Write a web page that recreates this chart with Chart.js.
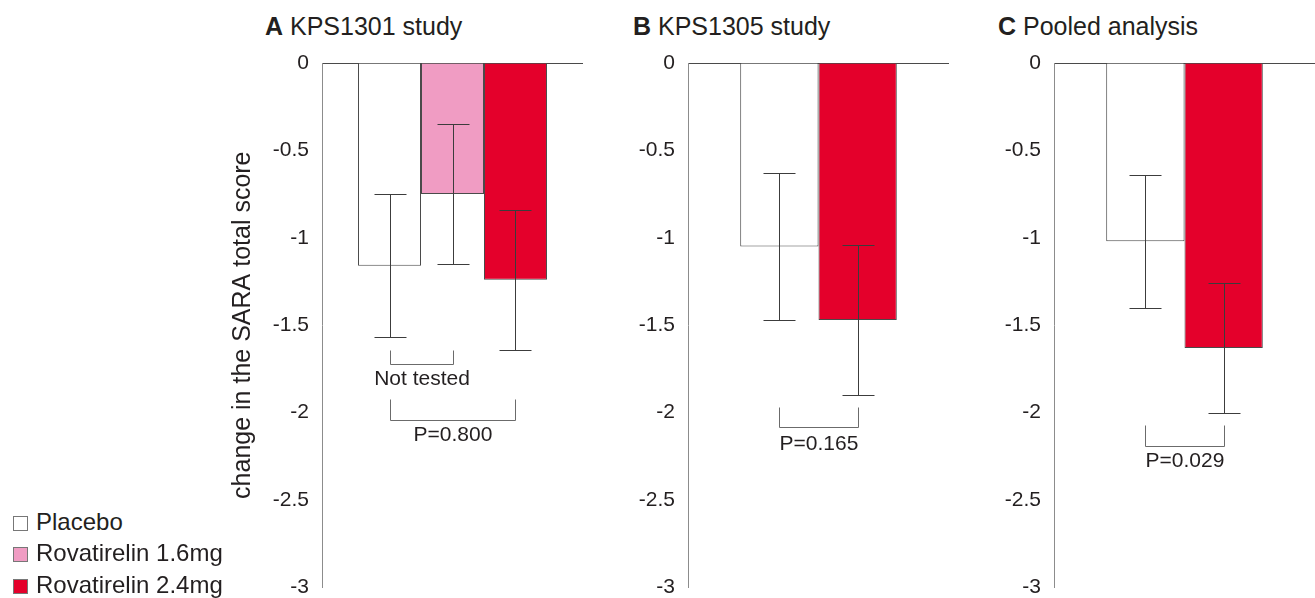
<!DOCTYPE html>
<html>
<head>
<meta charset="utf-8">
<script src="https://cdn.jsdelivr.net/npm/chart.js@4.4.0/dist/chart.umd.min.js"></script>
<style>
  body { margin: 0; background: #fff; font-family: "Liberation Sans", Arial, Helvetica, sans-serif; color: #231f20; }
  #page { position: relative; width: 1315px; height: 598px; overflow: hidden; }
  canvas { position: absolute; top: 0; }
  .ttl { position: absolute; top: 14px; font-size: 25px; line-height: 25px; white-space: nowrap; }
  .leg { position: absolute; left: 13px; font-size: 24px; line-height: 24px; white-space: nowrap; }
  .leg span { display: inline-block; width: 15px; height: 15px; box-sizing: border-box; border: 1px solid #777; margin-right: 8px; vertical-align: -1px; }
</style>
</head>
<body>
<div id="page">
  <div class="ttl" style="left:265px"><b>A</b> KPS1301 study</div>
  <div class="ttl" style="left:633px"><b>B</b> KPS1305 study</div>
  <div class="ttl" style="left:998px"><b>C</b> Pooled analysis</div>
  <canvas id="chartA" width="361" height="613" style="left:222px"></canvas>
  <canvas id="chartB" width="361" height="613" style="left:588px"></canvas>
  <canvas id="chartC" width="361" height="613" style="left:954px"></canvas>
  <div class="leg" style="top:510px"><span style="background:#fff"></span>Placebo</div>
  <div class="leg" style="top:541px"><span style="background:#f09cc3"></span>Rovatirelin 1.6mg</div>
  <div class="leg" style="top:573px"><span style="background:#e4002b"></span>Rovatirelin 2.4mg</div>
</div>
<script>
// Write your Javascript code.
var groups = ['Placebo', 'Rovatirelin 1.6mg', 'Rovatirelin 2.4mg'];
var colors = ['#ffffff', '#f09cc3', '#e4002b'];

var meanA = [-1.16, -0.75, -1.24];
var errA = [0.41, 0.40, 0.40];
var meanB = [-1.05, -1.47];
var errB = [0.42, 0.43];
var meanC = [-1.02, -1.63];
var errC = [0.38, 0.37];

var yMin = -3, yMax = 0, yStep = 0.5;

var errorBars = {
    id: 'errorBars',
    afterDatasetsDraw: function (chart, args, opts) {
        var ctx = chart.ctx;
        var y = chart.scales.y;
        ctx.save();
        ctx.strokeStyle = '#3c3c3c';
        ctx.lineWidth = 1;
        chart.data.datasets.forEach(function (ds, i) {
            var bar = chart.getDatasetMeta(i).data[0];
            var x = Math.round(bar.x) + 0.5;
            var top = Math.round(y.getPixelForValue(ds.data[0] + opts.err[i])) + 0.5;
            var bot = Math.round(y.getPixelForValue(ds.data[0] - opts.err[i])) + 0.5;
            ctx.beginPath();
            ctx.moveTo(x, top); ctx.lineTo(x, bot);
            ctx.moveTo(x - 16, top); ctx.lineTo(x + 16, top);
            ctx.moveTo(x - 16, bot); ctx.lineTo(x + 16, bot);
            ctx.stroke();
        });
        // significance brackets
        ctx.strokeStyle = '#6b6b6b';
        ctx.fillStyle = '#231f20';
        ctx.font = '21px "Liberation Sans", Arial, sans-serif';
        ctx.textAlign = 'center';
        ctx.textBaseline = 'middle';
        (opts.brackets || []).forEach(function (b) {
            var x1 = Math.round(chart.getDatasetMeta(b.from).data[0].x) + 0.5;
            var x2 = Math.round(chart.getDatasetMeta(b.to).data[0].x) + 0.5;
            var t = Math.round(y.getPixelForValue(b.top)) + 0.5;
            var bt = Math.round(y.getPixelForValue(b.bottom)) + 0.5;
            ctx.beginPath();
            ctx.moveTo(x1, t); ctx.lineTo(x1, bt); ctx.lineTo(x2, bt); ctx.lineTo(x2, t);
            ctx.stroke();
            ctx.fillText(b.text, (x1 + x2) / 2, y.getPixelForValue(b.textAt));
        });
        ctx.restore();
    }
};

function makeChart(id, means, errs, catPct, brackets, showTitle) {
    var ctx = document.getElementById(id).getContext('2d');
    var sets = means.map(function (v, i) {
        var g = (means.length === 2 && i === 1) ? 2 : i;
        return {
            label: groups[g],
            data: [v],
            backgroundColor: colors[g],
            borderColor: '#4a4a4a',
            borderWidth: 1,
            barPercentage: 1,
            categoryPercentage: catPct
        };
    });
    return new Chart(ctx, {
        type: 'bar',
        data: { labels: [''], datasets: sets },
        options: {
            responsive: false,
            animation: false,
            layout: { padding: { left: 0, right: 0, top: 63, bottom: 13 } },
            plugins: {
                legend: { display: false },
                tooltip: { enabled: false },
                errorBars: { err: errs, brackets: brackets }
            },
            scales: {
                x: { display: false },
                y: {
                    min: yMin, max: yMax,
                    afterFit: function (scale) { scale.width = 100; },
                    ticks: {
                        stepSize: yStep,
                        padding: 13,
                        color: '#231f20',
                        font: { family: '"Liberation Sans", Arial, sans-serif', size: 21 },
                        callback: function (v) { return String(Math.round(v * 10) / 10); }
                    },
                    grid: {
                        drawTicks: false,
                        color: function (c) { return c.tick && c.tick.value === 0 ? '#4a4a4a' : 'rgba(0,0,0,0)'; }
                    },
                    border: { color: '#8c8c8c', width: 1 },
                    title: {
                        display: showTitle,
                        text: 'change in the SARA total score',
                        color: '#231f20',
                        padding: { top: 6, bottom: 0 },
                        font: { family: '"Liberation Sans", Arial, sans-serif', size: 25 }
                    }
                }
            }
        },
        plugins: [errorBars]
    });
}

makeChart('chartA', meanA, errA, 0.724, [
    { from: 0, to: 1, top: -1.64, bottom: -1.72, text: 'Not tested', textAt: -1.81 },
    { from: 0, to: 2, top: -1.92, bottom: -2.04, text: 'P=0.800', textAt: -2.13 }
], true);
makeChart('chartB', meanB, errB, 0.60, [
    { from: 0, to: 1, top: -1.97, bottom: -2.08, text: 'P=0.165', textAt: -2.18 }
], false);
makeChart('chartC', meanC, errC, 0.60, [
    { from: 0, to: 1, top: -2.07, bottom: -2.19, text: 'P=0.029', textAt: -2.28 }
], false);
</script>
</body>
</html>
